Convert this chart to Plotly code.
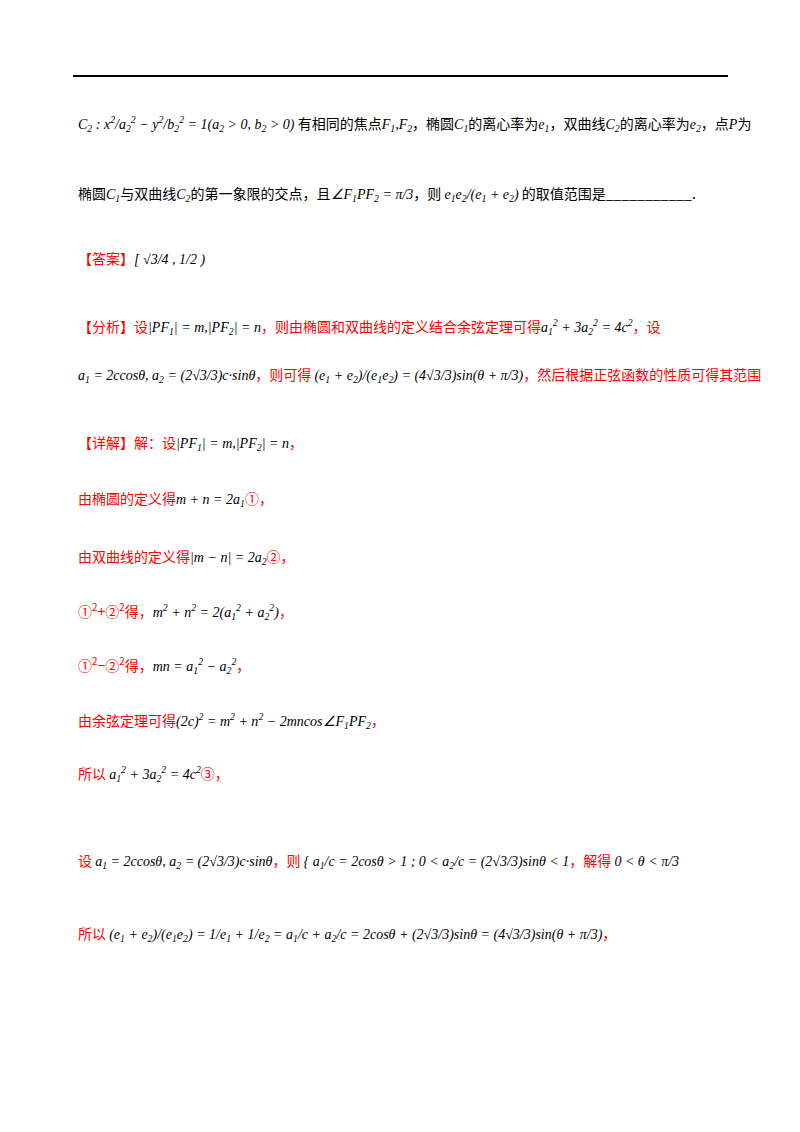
import plotly.graph_objects as go

R = '<span style="color:#ff0000">{}</span>'
M = '<span style="font-family:\'Liberation Serif\';font-style:italic">{}</span>'

line_y = [115, 185, 250, 318, 366, 434, 490, 548, 603, 657, 712, 765, 852, 925]
line_x = [68, 68, 68, 68, 68, 68, 68, 68, 68, 68, 68, 68, 68, 68]
line_text = [
    M.format("C<sub>2</sub> : x<sup>2</sup>/a<sub>2</sub><sup>2</sup> − y<sup>2</sup>/b<sub>2</sub><sup>2</sup> = 1(a<sub>2</sub> > 0, b<sub>2</sub> > 0)")
    + " 有相同的焦点" + M.format("F<sub>1</sub>,F<sub>2</sub>") + "，椭圆" + M.format("C<sub>1</sub>")
    + "的离心率为" + M.format("e<sub>1</sub>") + "，双曲线" + M.format("C<sub>2</sub>") + "的离心率为"
    + M.format("e<sub>2</sub>") + "，点" + M.format("P") + "为",
    "椭圆" + M.format("C<sub>1</sub>") + "与双曲线" + M.format("C<sub>2</sub>") + "的第一象限的交点，且"
    + M.format("∠F<sub>1</sub>PF<sub>2</sub> = π/3") + "，则 " + M.format("e<sub>1</sub>e<sub>2</sub>/(e<sub>1</sub> + e<sub>2</sub>)")
    + " 的取值范围是___________.",
    R.format("【答案】") + M.format("[ √3/4 , 1/2 )"),
    R.format("【分析】设") + M.format("|PF<sub>1</sub>| = m,|PF<sub>2</sub>| = n")
    + R.format("，则由椭圆和双曲线的定义结合余弦定理可得") + M.format("a<sub>1</sub><sup>2</sup> + 3a<sub>2</sub><sup>2</sup> = 4c<sup>2</sup>") + R.format("，设"),
    M.format("a<sub>1</sub> = 2ccosθ, a<sub>2</sub> = (2√3/3)c·sinθ") + R.format("，则可得 ")
    + M.format("(e<sub>1</sub> + e<sub>2</sub>)/(e<sub>1</sub>e<sub>2</sub>) = (4√3/3)sin(θ + π/3)")
    + R.format("，然后根据正弦函数的性质可得其范围"),
    R.format("【详解】解：设") + M.format("|PF<sub>1</sub>| = m,|PF<sub>2</sub>| = n") + R.format("，"),
    R.format("由椭圆的定义得") + M.format("m + n = 2a<sub>1</sub>") + R.format("①，"),
    R.format("由双曲线的定义得") + M.format("|m − n| = 2a<sub>2</sub>") + R.format("②，"),
    R.format("①<sup>2</sup>+②<sup>2</sup>得，") + M.format("m<sup>2</sup> + n<sup>2</sup> = 2(a<sub>1</sub><sup>2</sup> + a<sub>2</sub><sup>2</sup>)") + R.format("，"),
    R.format("①<sup>2</sup>−②<sup>2</sup>得，") + M.format("mn = a<sub>1</sub><sup>2</sup> − a<sub>2</sub><sup>2</sup>") + R.format("，"),
    R.format("由余弦定理可得") + M.format("(2c)<sup>2</sup> = m<sup>2</sup> + n<sup>2</sup> − 2mncos∠F<sub>1</sub>PF<sub>2</sub>") + R.format("，"),
    R.format("所以 ") + M.format("a<sub>1</sub><sup>2</sup> + 3a<sub>2</sub><sup>2</sup> = 4c<sup>2</sup>") + R.format("③，"),
    R.format("设 ") + M.format("a<sub>1</sub> = 2ccosθ, a<sub>2</sub> = (2√3/3)c·sinθ") + R.format("，则 ")
    + M.format("{ a<sub>1</sub>/c = 2cosθ > 1 ; 0 < a<sub>2</sub>/c = (2√3/3)sinθ < 1") + R.format("，解得 ") + M.format("0 < θ < π/3"),
    R.format("所以 ") + M.format("(e<sub>1</sub> + e<sub>2</sub>)/(e<sub>1</sub>e<sub>2</sub>) = 1/e<sub>1</sub> + 1/e<sub>2</sub> = a<sub>1</sub>/c + a<sub>2</sub>/c = 2cosθ + (2√3/3)sinθ = (4√3/3)sin(θ + π/3)") + R.format("，"),
]

fig = go.Figure()
for x, y, t in zip(line_x, line_y, line_text):
    fig.add_annotation(x=x, y=y, text=t, showarrow=False, xanchor="left", yanchor="middle",
                       font=dict(family="Noto Sans CJK SC", size=14, color="black"))

fig.add_shape(type="line", x0=65, x1=720, y0=68, y1=68, line=dict(color="black", width=2))

fig.update_xaxes(range=[0, 800], visible=False)
fig.update_yaxes(range=[1132, 0], visible=False)
fig.update_layout(width=800, height=1132, margin=dict(l=0, r=0, t=0, b=0),
                  plot_bgcolor="white", paper_bgcolor="white", showlegend=False)
fig.write_html("out.html")
